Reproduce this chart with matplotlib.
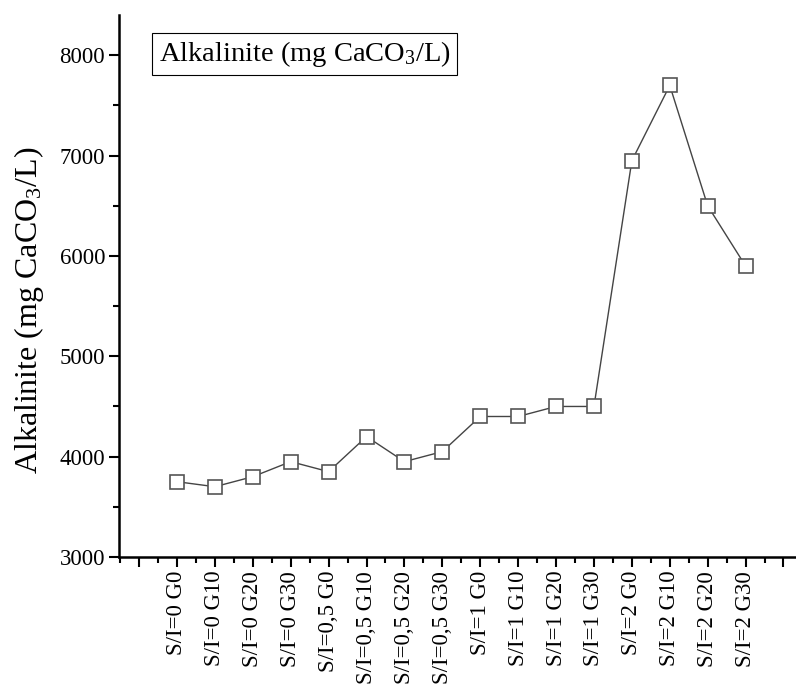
import matplotlib
matplotlib.use("Agg")
import matplotlib.pyplot as plt
import numpy as np

plt.rcParams["font.family"] = ["Liberation Serif", "DejaVu Serif"]
plt.rcParams["mathtext.fontset"] = "custom"
plt.rcParams["mathtext.rm"] = "Liberation Serif"
plt.rcParams["mathtext.it"] = "Liberation Serif"

samples = [
    "S/I=0 G0", "S/I=0 G10", "S/I=0 G20", "S/I=0 G30",
    "S/I=0,5 G0", "S/I=0,5 G10", "S/I=0,5 G20", "S/I=0,5 G30",
    "S/I=1 G0", "S/I=1 G10", "S/I=1 G20", "S/I=1 G30",
    "S/I=2 G0", "S/I=2 G10", "S/I=2 G20", "S/I=2 G30",
]
alkalinity = [3750, 3700, 3800, 3950, 3850, 4200, 3950, 4050,
              4400, 4400, 4500, 4500, 6950, 7700, 6500, 5900]

fig = plt.figure(figsize=(7.96, 6.91), dpi=100)
ax = fig.add_axes([0.1495, 0.194, 0.8505, 0.784])

x = np.arange(1, len(samples) + 1)
ax.plot(x, alkalinity, color="#444444", lw=1.0, marker="s", ms=10,
        mfc="white", mec="#555555", mew=1.2)

ax.set_xlim(-0.53, 17.33)
ax.set_ylim(3000, 8400)

# empty category slots at both ends, minor ticks halfway between
ax.set_xticks(np.arange(0, 18))
ax.set_xticklabels([""] + samples + [""], rotation=90, fontsize=16.5)
ax.set_xticks(np.arange(-0.5, 17.5, 1), minor=True)
ax.set_yticks([3000, 4000, 5000, 6000, 7000, 8000])
ax.set_yticks(np.arange(3500, 8400, 1000), minor=True)
ax.tick_params(axis="y", labelsize=16.5)

ax.tick_params(which="major", direction="out", length=7, width=1.5, pad=3)
ax.tick_params(which="minor", direction="out", length=4, width=1.5)

for side in ["top", "right"]:
    ax.spines[side].set_visible(False)
for side in ["left", "bottom"]:
    ax.spines[side].set_linewidth(1.8)

ax.set_ylabel("Alkalinite (mg CaCO$_3$/L)", fontsize=23)
ax.yaxis.set_label_coords(-0.108, 0.456)

ax.text(0.0586, 0.956, "Alkalinite (mg CaCO$_3$/L)", transform=ax.transAxes,
        fontsize=20.5, ha="left", va="top",
        bbox=dict(boxstyle="square,pad=0.22", fc="white", ec="black", lw=0.8))

fig.savefig("out.png", dpi=100)
